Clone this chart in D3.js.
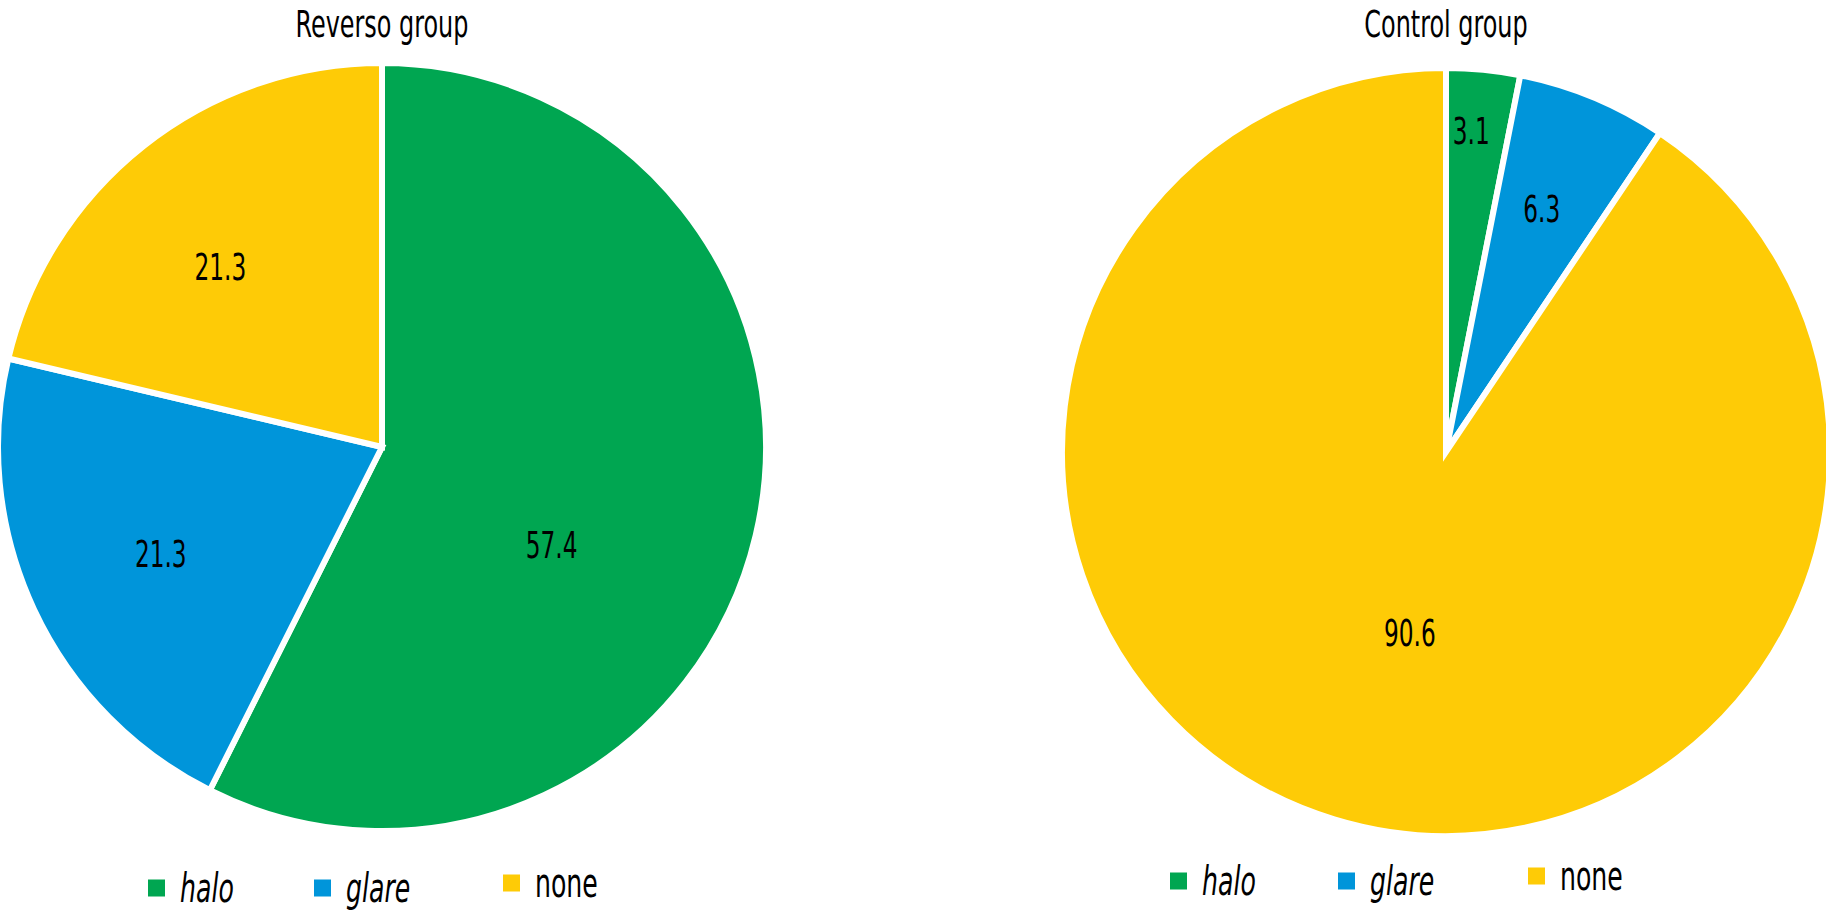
<!DOCTYPE html>
<html>
<head>
<meta charset="utf-8">
<script src="https://cdn.jsdelivr.net/npm/d3@7"></script>
<style>
  html, body { margin: 0; padding: 0; background: #fff; }
  svg text { font-family: "Liberation Sans Narrow", "DejaVu Sans Condensed", "Roboto", sans-serif; fill: #000; }
</style>
</head>
<body>
<svg id="chart" width="1826" height="911"></svg>
<script>
// data
var categories = ['halo', 'glare', 'none'];
var reversoValues = [57.4, 21.3, 21.3];
var controlValues = [3.1, 6.3, 90.6];
var groupTitles = ['Reverso group', 'Control group'];

var colors = d3.scaleOrdinal()
    .domain(categories)
    .range(['#00a651', '#0095da', '#fecb06']);

// layout of the two pies
var pies = [
    { title: groupTitles[0], values: reversoValues, cx: 382, cy: 447, legendY: 888,
      legendX: [148, 314, 503],
      // label placement: fraction of radius, nudge of angle (deg) from slice middle
      labelR: [0.51, 0.64, 0.63], labelNudge: [16.7, -0.8, -3.6] },
    { title: groupTitles[1], values: controlValues, cx: 1446, cy: 452, legendY: 881,
      legendX: [1170, 1338, 1528],
      labelR: [0.84, 0.68, 0.48], labelNudge: [-1.1, -1.0, -5.6] }
];
var radius = 384;
var squareSize = 17;

var svg = d3.select('#chart');

var pie = d3.pie().sort(null).value(function(d){ return d.value; });
var arc = d3.arc().innerRadius(0).outerRadius(radius);

pies.forEach(function(p){
    var data = categories.map(function(c, i){ return { key: c, value: p.values[i] }; });
    var g = svg.append('g').attr('transform', 'translate(' + p.cx + ',' + p.cy + ')');

    // slices
    var slices = pie(data);
    g.selectAll('path.slice')
        .data(slices)
        .enter()
        .append('path')
        .attr('class', 'slice')
        .attr('d', arc)
        .style('fill', function(d){ return colors(d.data.key); })
        .style('stroke', '#fff')
        .style('stroke-width', 6)
        .style('stroke-linejoin', 'miter');

    // value labels
    g.selectAll('text.value')
        .data(slices)
        .enter()
        .append('text')
        .attr('class', 'value')
        .attr('transform', function(d, i){
            var a = (d.startAngle + d.endAngle) / 2 + p.labelNudge[i] * Math.PI / 180;
            var r = radius * p.labelR[i];
            return 'translate(' + (Math.sin(a) * r) + ',' + (-Math.cos(a) * r) + ') scale(0.68,1)';
        })
        .attr('text-anchor', 'middle')
        .attr('dy', '0.35em')
        .attr('font-size', 38)
        .text(function(d){ return d3.format('.1f')(d.data.value); });

    // title
    svg.append('text')
        .attr('transform', 'translate(' + p.cx + ',37) scale(0.7,1)')
        .attr('text-anchor', 'middle')
        .attr('font-size', 38)
        .text(p.title);

    // legend
    var legend = svg.append('g');
    var items = legend.selectAll('g')
        .data(categories)
        .enter()
        .append('g')
        .attr('transform', function(d, i){
            // the "none" marker sits a little higher
            var lift = d === 'none' ? -5 : 0;
            return 'translate(' + p.legendX[i] + ',' + (p.legendY + lift) + ')';
        });
    items.append('rect')
        .attr('x', 0)
        .attr('y', -squareSize / 2)
        .attr('width', squareSize)
        .attr('height', squareSize)
        .style('fill', function(d){ return colors(d); });
    items.append('text')
        .attr('transform', 'translate(' + (squareSize + 15) + ',0) scale(0.7,1)')
        .attr('dy', '0.35em')
        .attr('font-size', 40)
        .style('font-style', function(d){ return d === 'none' ? 'normal' : 'italic'; })
        .text(function(d){ return d; });
});
</script>
</body>
</html>
